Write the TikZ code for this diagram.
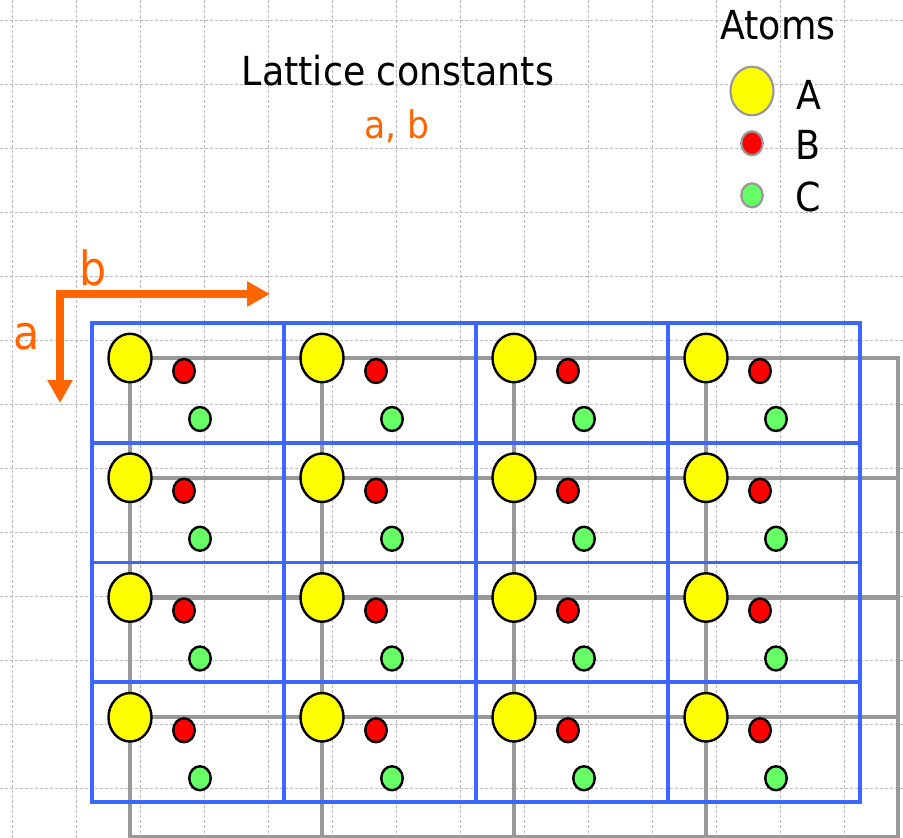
\documentclass[tikz,border=0pt]{standalone}
\usepackage{fontspec}
\setmainfont{DejaVu Sans}[FakeStretch=0.91]
\usetikzlibrary{shapes.geometric,arrows.meta}
\definecolor{bondgray}{RGB}{153,153,153}
\definecolor{cellblue}{RGB}{61,102,255}
\definecolor{orng}{RGB}{255,102,0}
\definecolor{atomA}{RGB}{255,255,0}
\definecolor{atomB}{RGB}{255,0,0}
\definecolor{atomC}{RGB}{102,255,102}
\definecolor{gridgray}{RGB}{185,185,185}
\tikzset{
  bggrid/.style={draw=gridgray, line width=0.9pt, dash pattern=on 3pt off 2pt},
  cellline/.style={draw=cellblue, line width=3.8pt},
  bond/.style={draw=bondgray, line width=4.4pt, line cap=rect},
  atomAbig/.style={ellipse, draw=black, line width=2.4pt, fill=atomA, inner sep=0pt, minimum width=43pt, minimum height=48.5pt},
  atomBsmall/.style={ellipse, draw=black, line width=2.4pt, fill=atomB, inner sep=0pt, minimum width=21.5pt, minimum height=24pt},
  atomCsmall/.style={ellipse, draw=black, line width=2.4pt, fill=atomC, inner sep=0pt, minimum width=21.5pt, minimum height=24pt},
  legA/.style={atomAbig, draw=bondgray, line width=2.2pt},
  legB/.style={atomBsmall, draw=bondgray, line width=2.2pt},
  legC/.style={atomCsmall, draw=bondgray, line width=2.2pt},
  orngarrow/.style={draw=orng, line width=7.5pt, line join=miter,
    arrows={Triangle[length=23pt,width=24pt]-Triangle[length=23pt,width=24pt]}},
  bigtxt/.style={anchor=base, inner sep=0pt, font=\fontsize{40}{48}\selectfont},
}
\begin{document}
\begin{tikzpicture}[x=1pt,y=-1pt]
\useasboundingbox (0,0) rectangle (903,838);
% background dashed grid
\foreach \k in {0,...,13} \draw[bggrid] (12+64*\k,0) -- (12+64*\k,838);
\foreach \k in {0,...,12} \draw[bggrid] (0,20+64*\k) -- (903,20+64*\k);
% bond lattice points
\foreach \i in {0,...,4}{
  \foreach \j in {0,...,4}{
    \coordinate (p-\i-\j) at (130+192*\i, 358+119.75*\j);
  }
}
\foreach \i in {0,...,4} \draw[bond] (p-\i-0) -- (p-\i-4);
\foreach \j in {0,...,4} \draw[bond] (p-0-\j) -- (p-4-\j);
% unit cells
\foreach \i in {0,...,3}{
  \foreach \j in {0,...,3}{
    \draw[cellline] (92+192*\i, 323+119.75*\j) rectangle +(192,119.75);
  }
}
% atoms
\foreach \i in {0,...,3}{
  \foreach \j in {0,...,3}{
    \node[atomAbig] (A-\i-\j) at (p-\i-\j) {};
    \node[atomBsmall] (B-\i-\j) at ([shift={(54,13)}]p-\i-\j) {};
    \node[atomCsmall] (C-\i-\j) at ([shift={(70,61)}]p-\i-\j) {};
  }
}
% axes
\coordinate (corner) at (60,294);
\coordinate (btip) at (270,294);
\coordinate (atip) at (60,403);
\draw[orngarrow] (atip) -- (corner) -- (btip);
\node[anchor=base, inner sep=0pt, text=orng, font=\fontsize{47}{54}\selectfont] (blab) at (93,285) {b};
\node[anchor=base, inner sep=0pt, text=orng, font=\fontsize{47}{54}\selectfont] (alab) at (27,349) {a};
% title
\node[bigtxt] (title) at (398,85.7) {Lattice constants};
\node[anchor=base, inner sep=0pt, text=orng, font=\fontsize{38}{44}\selectfont] (consts) at (397,138) {a, b};
% legend
\node[bigtxt] (atoms) at (778,39) {Atoms};
\node[legA] (lA) at (752,91) {};
\node[legB] (lB) at (752,143.3) {};
\node[legC] (lC) at (752,195.3) {};
\node[bigtxt] (tA) at (809,109) {A};
\node[bigtxt] (tB) at (808,159) {B};
\node[bigtxt] (tC) at (808,211) {C};
\end{tikzpicture}
\end{document}
